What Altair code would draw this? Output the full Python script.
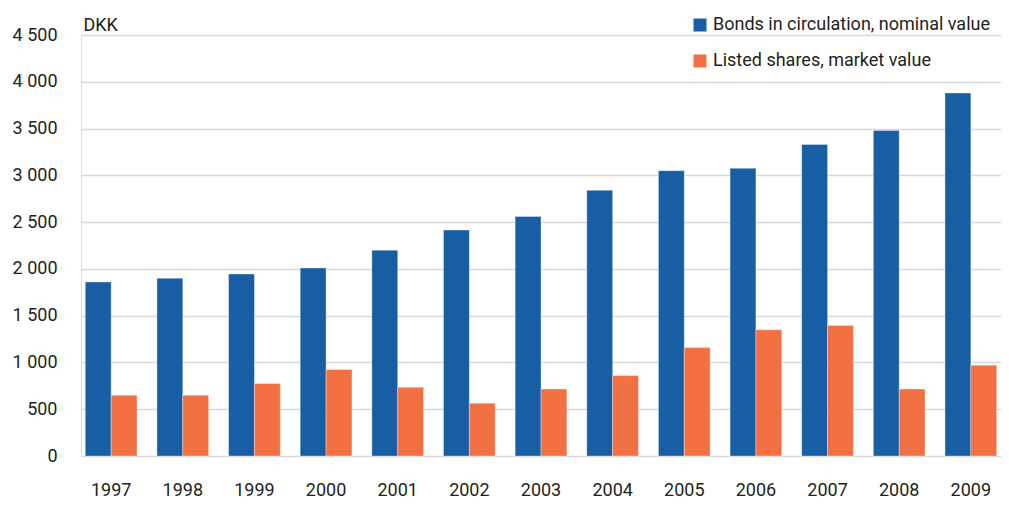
import altair as alt
import pandas as pd

years = ["1997", "1998", "1999", "2000", "2001", "2002", "2003",
         "2004", "2005", "2006", "2007", "2008", "2009"]
bonds = [1860, 1900, 1945, 2010, 2200, 2415, 2560, 2840, 3050, 3075, 3330, 3480, 3880]
shares = [650, 650, 775, 925, 735, 565, 715, 860, 1160, 1350, 1395, 715, 970]
series_names = ["Bonds in circulation, nominal value", "Listed shares, market value"]
series_colors = ["#175EA4", "#F37043"]
y_ticks = [0, 500, 1000, 1500, 2000, 2500, 3000, 3500, 4000, 4500]

rows = []
for i, yr in enumerate(years):
    rows.append({"year": yr, "series": series_names[0], "value": bonds[i]})
    rows.append({"year": yr, "series": series_names[1], "value": shares[i]})
df = pd.DataFrame(rows)

FONT = "Roboto"
TXT = "#231F20"
FS = 18

chart = alt.Chart(df).mark_bar(
    stroke="white", strokeOpacity=0.35, strokeWidth=1
).encode(
    x=alt.X("year:N", sort=years,
            scale=alt.Scale(paddingInner=0.278, paddingOuter=0.06),
            axis=alt.Axis(title=None, labelAngle=0, ticks=False, domain=False,
                          labelPadding=25, labelFontSize=FS, labelFont=FONT,
                          labelColor=TXT, grid=False)),
    xOffset=alt.XOffset("series:N", sort=series_names),
    y=alt.Y("value:Q",
            scale=alt.Scale(domain=[0, 4500], nice=False),
            axis=alt.Axis(values=y_ticks, title="DKK", titleAngle=0,
                          titleAlign="left", titleBaseline="alphabetic",
                          titleX=2, titleY=-5, titleFont=FONT, titleFontSize=FS,
                          titleFontWeight="normal", titleColor=TXT,
                          labelExpr="replace(format(datum.value, ','), ',', ' ')",
                          labelFont=FONT, labelFontSize=FS, labelColor=TXT,
                          ticks=False, tickSize=0, domain=False, labelPadding=24,
                          grid=True, gridColor="#D9D9D9", gridWidth=1.6)),
    color=alt.Color("series:N", sort=series_names,
                    scale=alt.Scale(domain=series_names, range=series_colors),
                    legend=alt.Legend(title=None, orient="none", legendX=610, legendY=-19,
                                      direction="vertical", symbolType="square",
                                      symbolSize=169, symbolStrokeWidth=0,
                                      labelFont=FONT, labelFontSize=FS, labelColor=TXT,
                                      labelOffset=4, labelLimit=500, rowPadding=18,
                                      padding=0)),
).properties(
    width=920, height=421,
    autosize=alt.AutoSizeParams(type="none"),
    padding={"left": 73, "top": 27, "right": 0, "bottom": 47},
).configure_view(stroke=None).configure(background="white")

chart.save("out.html", embed_options={"renderer": "svg", "actions": False})
